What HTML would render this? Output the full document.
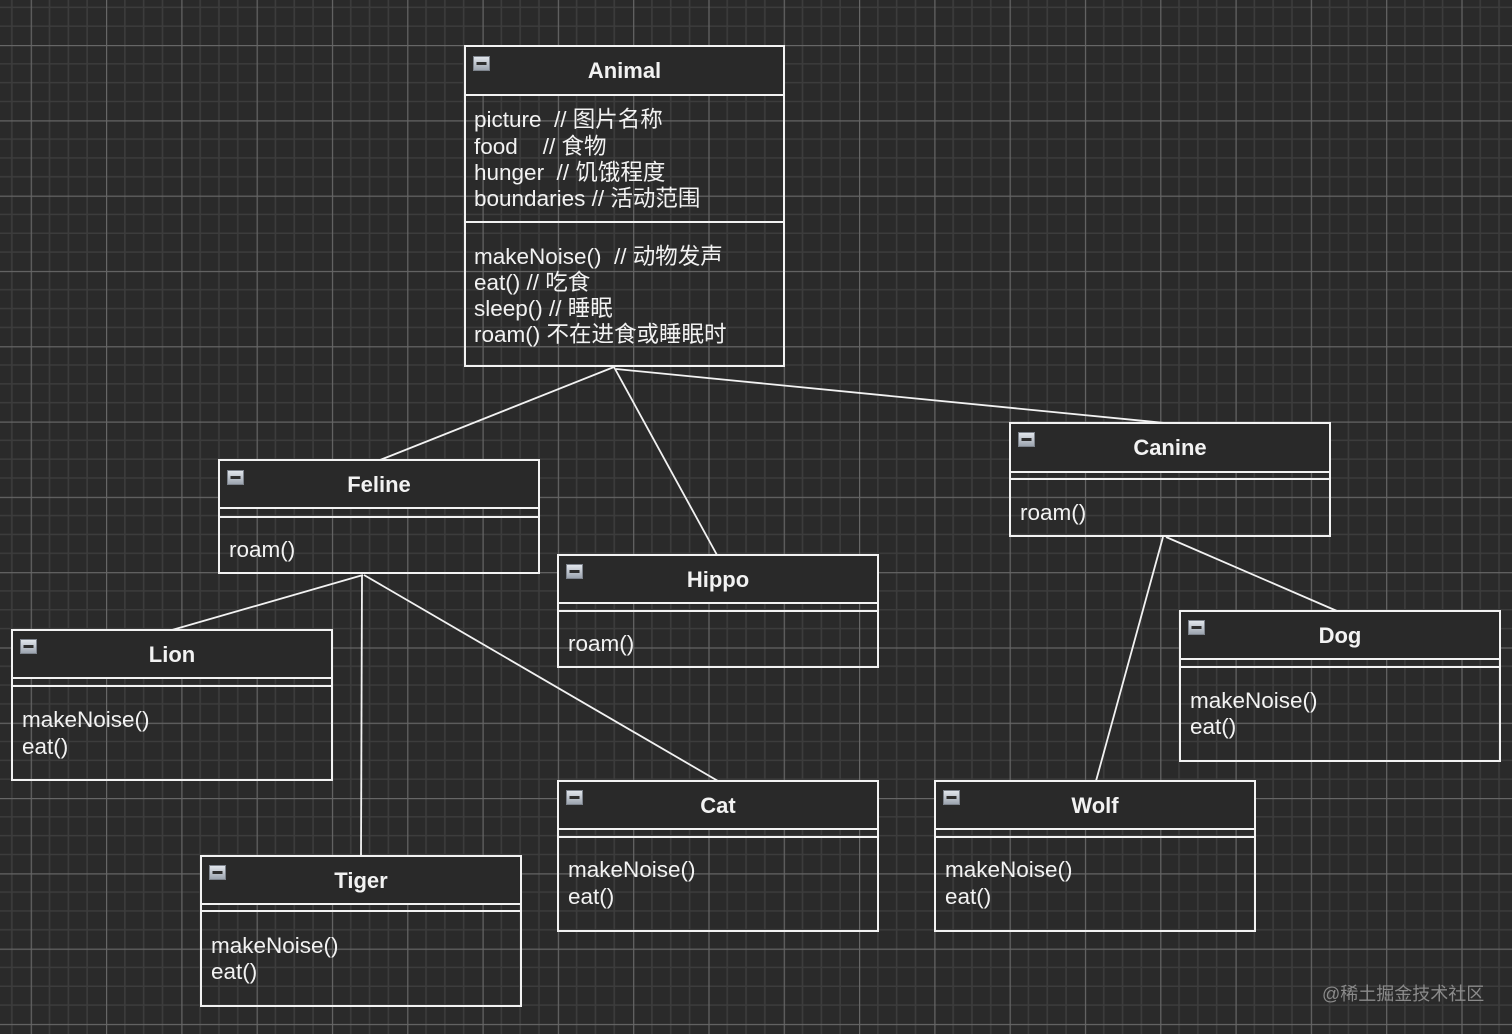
<!DOCTYPE html>
<html>
<head>
<meta charset="utf-8">
<style>
  html,body{margin:0;padding:0;}
  body{width:1512px;height:1034px;overflow:hidden;background:#2a2a2a;position:relative;}
  svg{position:absolute;left:0;top:0;}
  .t{position:absolute;height:26px;line-height:26px;font-size:22.5px;color:#f2f2f2;white-space:pre;
     font-family:"Liberation Sans","Noto Sans CJK SC",sans-serif;}
  .h{font-weight:bold;text-align:center;font-size:22px;}
  .wm{position:absolute;left:1322px;top:982px;font-size:18px;line-height:24px;color:#8a8a8a;white-space:pre;
      font-family:"Liberation Sans","Noto Sans CJK SC",sans-serif;}
</style>
</head>
<body>
<svg width="1512" height="1034" viewBox="0 0 1512 1034">
  <defs>
    <pattern id="g" x="30.7" y="45" width="75.3" height="75.3" patternUnits="userSpaceOnUse">
      <g stroke="#3c3c3c" stroke-width="1.6">
        <line x1="18.825" y1="0" x2="18.825" y2="75.3"/>
        <line x1="37.65" y1="0" x2="37.65" y2="75.3"/>
        <line x1="56.475" y1="0" x2="56.475" y2="75.3"/>
        <line x1="0" y1="18.825" x2="75.3" y2="18.825"/>
        <line x1="0" y1="37.65" x2="75.3" y2="37.65"/>
        <line x1="0" y1="56.475" x2="75.3" y2="56.475"/>
      </g>
      <rect x="0" y="0" width="1.2" height="75.3" fill="#666666"/>
      <rect x="0" y="0" width="75.3" height="1.2" fill="#666666"/>
    </pattern>
    <linearGradient id="ic" x1="0" y1="0" x2="0" y2="1">
      <stop offset="0" stop-color="#e4e8ee"/>
      <stop offset="1" stop-color="#9aa2ad"/>
    </linearGradient>
    <g id="icon">
      <rect x="0.5" y="0.5" width="16" height="14" fill="url(#ic)" stroke="#7d838c" stroke-width="1"/>
      <rect x="3.5" y="6" width="10" height="3" fill="#2e2e2e"/>
    </g>
  </defs>
  <rect width="1512" height="1034" fill="#2a2a2a"/>
  <rect width="1512" height="1034" fill="url(#g)"/>

  <!-- connectors -->
  <g stroke="#f2f2f2" stroke-width="1.8" fill="none">
    <line x1="614" y1="367" x2="380" y2="460"/>
    <line x1="614" y1="367" x2="717" y2="555"/>
    <line x1="616" y1="369" x2="1165" y2="423"/>
    <line x1="363" y1="575" x2="172" y2="630"/>
    <line x1="362" y1="575" x2="361" y2="856"/>
    <line x1="364" y1="575" x2="718" y2="781"/>
    <line x1="1163" y1="537" x2="1096" y2="781"/>
    <line x1="1166" y1="537" x2="1337" y2="611"/>
  </g>

  <!-- header fills -->
  <g fill="#292929">
    <rect x="465" y="46" width="319" height="49"/>
    <rect x="219" y="460" width="320" height="48"/>
    <rect x="558" y="555" width="320" height="48"/>
    <rect x="1010" y="423" width="320" height="49"/>
    <rect x="12" y="630" width="320" height="48"/>
    <rect x="201" y="856" width="320" height="48"/>
    <rect x="558" y="781" width="320" height="48"/>
    <rect x="935" y="781" width="320" height="48"/>
    <rect x="1180" y="611" width="320" height="48"/>
  </g>

  <!-- boxes -->
  <g stroke="#f2f2f2" stroke-width="2" fill="none">
    <rect x="465" y="46" width="319" height="320"/>
    <line x1="465" y1="95" x2="784" y2="95"/>
    <line x1="465" y1="222" x2="784" y2="222"/>
    <rect x="219" y="460" width="320" height="113"/>
    <line x1="219" y1="508" x2="539" y2="508"/>
    <line x1="219" y1="517" x2="539" y2="517"/>
    <rect x="558" y="555" width="320" height="112"/>
    <line x1="558" y1="603" x2="878" y2="603"/>
    <line x1="558" y1="611" x2="878" y2="611"/>
    <rect x="1010" y="423" width="320" height="113"/>
    <line x1="1010" y1="472" x2="1330" y2="472"/>
    <line x1="1010" y1="479" x2="1330" y2="479"/>
    <rect x="12" y="630" width="320" height="150"/>
    <line x1="12" y1="678" x2="332" y2="678"/>
    <line x1="12" y1="686" x2="332" y2="686"/>
    <rect x="201" y="856" width="320" height="150"/>
    <line x1="201" y1="904" x2="521" y2="904"/>
    <line x1="201" y1="911" x2="521" y2="911"/>
    <rect x="558" y="781" width="320" height="150"/>
    <line x1="558" y1="829" x2="878" y2="829"/>
    <line x1="558" y1="837" x2="878" y2="837"/>
    <rect x="935" y="781" width="320" height="150"/>
    <line x1="935" y1="829" x2="1255" y2="829"/>
    <line x1="935" y1="837" x2="1255" y2="837"/>
    <rect x="1180" y="611" width="320" height="150"/>
    <line x1="1180" y1="659" x2="1500" y2="659"/>
    <line x1="1180" y1="667" x2="1500" y2="667"/>
  </g>

  <!-- icons -->
  <use href="#icon" x="473" y="56"/>
  <use href="#icon" x="227" y="470"/>
  <use href="#icon" x="566" y="564"/>
  <use href="#icon" x="1018" y="432"/>
  <use href="#icon" x="20" y="639"/>
  <use href="#icon" x="209" y="865"/>
  <use href="#icon" x="566" y="790"/>
  <use href="#icon" x="943" y="790"/>
  <use href="#icon" x="1188" y="620"/>
</svg>

<!-- Animal -->
<div class="t h" style="left:465px;width:319px;top:58px;">Animal</div>
<div class="t" style="left:474px;top:107px;">picture  // 图片名称</div>
<div class="t" style="left:474px;top:133.5px;">food    // 食物</div>
<div class="t" style="left:474px;top:160px;">hunger  // 饥饿程度</div>
<div class="t" style="left:474px;top:186px;">boundaries // 活动范围</div>
<div class="t" style="left:474px;top:243.5px;">makeNoise()  // 动物发声</div>
<div class="t" style="left:474px;top:270px;">eat() // 吃食</div>
<div class="t" style="left:474px;top:295.7px;">sleep() // 睡眠</div>
<div class="t" style="left:474px;top:321.5px;">roam() 不在进食或睡眠时</div>

<!-- Feline -->
<div class="t h" style="left:219px;width:320px;top:472px;">Feline</div>
<div class="t" style="left:229px;top:537px;">roam()</div>

<!-- Hippo -->
<div class="t h" style="left:558px;width:320px;top:567px;">Hippo</div>
<div class="t" style="left:568px;top:631px;">roam()</div>

<!-- Canine -->
<div class="t h" style="left:1010px;width:320px;top:434.5px;">Canine</div>
<div class="t" style="left:1020px;top:500px;">roam()</div>

<!-- Lion -->
<div class="t h" style="left:12px;width:320px;top:641.5px;">Lion</div>
<div class="t" style="left:22px;top:707px;">makeNoise()</div>
<div class="t" style="left:22px;top:733.5px;">eat()</div>

<!-- Tiger -->
<div class="t h" style="left:201px;width:320px;top:868px;">Tiger</div>
<div class="t" style="left:211px;top:932.5px;">makeNoise()</div>
<div class="t" style="left:211px;top:959px;">eat()</div>

<!-- Cat -->
<div class="t h" style="left:558px;width:320px;top:792.5px;">Cat</div>
<div class="t" style="left:568px;top:857px;">makeNoise()</div>
<div class="t" style="left:568px;top:883.5px;">eat()</div>

<!-- Wolf -->
<div class="t h" style="left:935px;width:320px;top:792.5px;">Wolf</div>
<div class="t" style="left:945px;top:857px;">makeNoise()</div>
<div class="t" style="left:945px;top:883.5px;">eat()</div>

<!-- Dog -->
<div class="t h" style="left:1180px;width:320px;top:623px;">Dog</div>
<div class="t" style="left:1190px;top:688px;">makeNoise()</div>
<div class="t" style="left:1190px;top:714px;">eat()</div>

<div class="wm">@稀土掘金技术社区</div>
</body>
</html>
